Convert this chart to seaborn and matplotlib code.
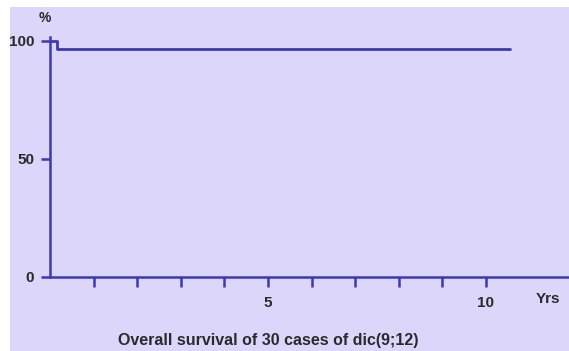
import matplotlib
matplotlib.use("Agg")
import matplotlib.pyplot as plt
import seaborn as sns
import pandas as pd
from matplotlib.patches import Rectangle

# Kaplan-Meier style survival curve (29/30 alive)
years = [0.0, 0.16, 10.55]
survival = [100.0, 96.67, 96.67]
x_ticks = list(range(1, 11))
x_labelled = {5: "5", 10: "10"}
y_ticks = [0, 50, 100]
title = "Overall survival of 30 cases of dic(9;12)"

bg = "#ddd6fb"
blue = "#3a3ab4"
txt = "#2a2a2a"

sns.set_style("white")
plt.rcParams["font.family"] = ["Liberation Sans", "DejaVu Sans"]

W, H = 569, 351
fig = plt.figure(figsize=(W / 100, H / 100), dpi=100, facecolor="white")
fig.patches.append(Rectangle((10 / W, 0), 1, 1 - 7 / H, transform=fig.transFigure,
                             facecolor=bg, edgecolor="none", zorder=-1))

x0, y0 = 50, 277
px_year, px_pct = 43.6, 2.36
ax = fig.add_axes([x0 / W, 1 - y0 / H, (W - x0) / W, (y0 - 37) / H])
ax.set_facecolor("none")

df = pd.DataFrame({"years": years, "survival": survival})
sns.lineplot(data=df, x="years", y="survival", ax=ax, color=blue, lw=2,
             drawstyle="steps-post")

ax.set_xlim(0, (W - x0) / px_year)
ax.set_ylim(0, (y0 - 37) / px_pct)

for s in ["top", "right"]:
    ax.spines[s].set_visible(False)
for s in ["left", "bottom"]:
    ax.spines[s].set_color(blue)
    ax.spines[s].set_linewidth(1.8)

ax.set_xticks(x_ticks)
ax.set_xticklabels([x_labelled.get(t, "") for t in x_ticks])
ax.set_yticks(y_ticks)
ax.tick_params(axis="x", bottom=True, direction="out", length=7.5, width=1.8,
               color=blue, labelsize=11, labelcolor=txt, pad=6)
ax.tick_params(axis="y", left=True, direction="out", length=6.5, width=1.8,
               color=blue, labelsize=11, labelcolor=txt, pad=5)
for lab in ax.get_xticklabels() + ax.get_yticklabels():
    lab.set_fontweight("bold")

ax.set_xlabel("")
ax.set_ylabel("")

fig.text(45 / W, 1 - 18 / H, "%", ha="center", va="center", fontsize=10,
         fontweight="bold", color=txt)
fig.text(548 / W, 1 - 299 / H, "Yrs", ha="center", va="center", fontsize=11,
         fontweight="bold", color=txt)
fig.text(268 / W, 1 - 340 / H, title, ha="center", va="center", fontsize=11.5,
         fontweight="bold", color=txt)

fig.savefig("out.png", dpi=100, facecolor=fig.get_facecolor())
